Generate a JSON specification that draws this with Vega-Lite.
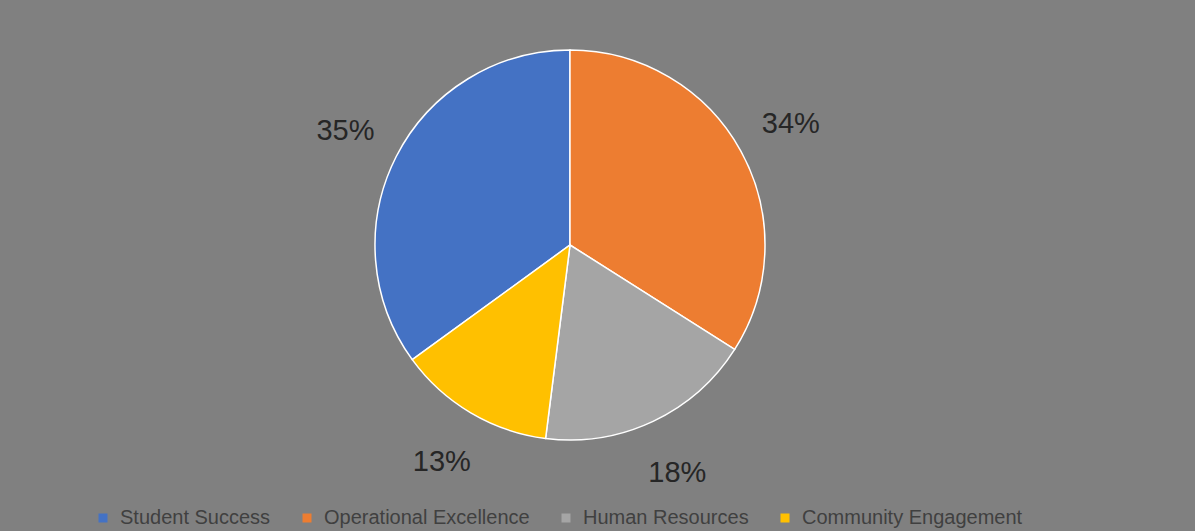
{
  "$schema": "https://vega.github.io/schema/vega-lite/v6.json",
  "width": 1140,
  "height": 490,
  "autosize": {"type": "none"},
  "padding": {"left": 0, "top": 0, "right": 55, "bottom": 41},
  "background": "#808080",
  "config": {"view": {"stroke": null}, "font": "Liberation Sans"},
  "data": {
    "values": [
      {"category": "Student Success", "share": 35, "label": "35%", "rank": 1},
      {"category": "Operational Excellence", "share": 34, "label": "34%", "rank": 2},
      {"category": "Human Resources", "share": 18, "label": "18%", "rank": 3},
      {"category": "Community Engagement", "share": 13, "label": "13%", "rank": 4}
    ]
  },
  "encoding": {
    "theta": {"field": "share", "type": "quantitative", "stack": true, "scale": {"range": [4.084, 10.367]}},
    "order": {"field": "rank", "type": "quantitative"}
  },
  "layer": [
    {
      "mark": {"type": "arc", "outerRadius": 195, "stroke": "white", "strokeWidth": 1.5},
      "encoding": {
        "color": {
          "field": "category",
          "type": "nominal",
          "sort": ["Student Success", "Operational Excellence", "Human Resources", "Community Engagement"],
          "scale": {
            "domain": ["Student Success", "Operational Excellence", "Human Resources", "Community Engagement"],
            "range": ["#4472C4", "#ED7D31", "#A5A5A5", "#FFC000"]
          },
          "legend": {
            "title": null,
            "orient": "none",
            "legendX": 93,
            "legendY": 508,
            "direction": "horizontal",
            "symbolType": "square",
            "symbolSize": 81,
            "symbolStrokeWidth": 0,
            "symbolOpacity": 1,
            "labelFontSize": 20,
            "labelColor": "#404040",
            "labelLimit": 0,
            "labelOffset": 7,
            "columnPadding": 26
          }
        }
      }
    },
    {
      "mark": {"type": "text", "radius": 252, "fontSize": 29, "fill": "#262626"},
      "encoding": {
        "detail": {"field": "category", "type": "nominal"},
        "text": {"field": "label", "type": "nominal"}
      }
    }
  ]
}
